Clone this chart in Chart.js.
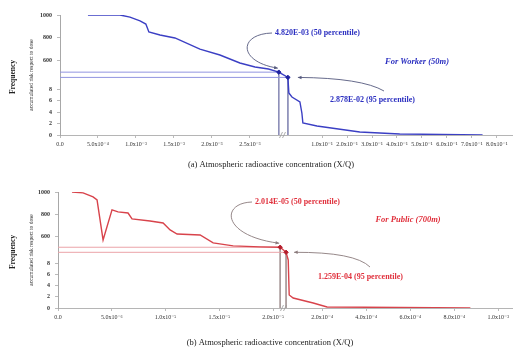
<!DOCTYPE html>
<html>
<head>
<meta charset="utf-8">
<script src="https://cdn.jsdelivr.net/npm/chart.js@4/dist/chart.umd.min.js"></script>
<style>
  html, body { margin: 0; padding: 0; background: #fff; }
  #wrap { position: relative; width: 517px; height: 353px; overflow: hidden; }
  canvas { position: absolute; left: 0; }
</style>
</head>
<body>
<div id="wrap">
  <canvas id="worker" width="517" height="170" style="top:0"></canvas>
  <canvas id="public" width="517" height="183" style="top:170px"></canvas>
</div>
<script>
// ---- data: cumulative frequency vs. atmospheric concentration (X/Q) ----
// (a) worker, 50 m
const workerX    = [3.68e-4, 7.89e-4, 9.21e-4, 1.053e-3, 1.13e-3, 1.17e-3, 1.316e-3, 1.513e-3, 1.842e-3,
                    2.105e-3, 2.368e-3, 2.91e-3, 3.99e-3, 4.820e-3, 2.878e-2, 3.08e-2, 3.72e-2, 5.38e-2,
                    5.79e-2, 6.0e-2, 8.93e-2, 0.251, 0.411, 0.743];
const workerFreq = [1000, 1000, 982, 948, 921, 851, 825, 799, 702,
                    650, 580, 545, 527, 500, 50, 7.35, 6.65, 5.78,
                    3.85, 2.1, 1.58, 0.53, 0.18, 0];
const workerPctX = [4.820e-3, 2.878e-2];

// (b) public, 700 m
const publicX    = [1.3e-6, 2.33e-6, 3.26e-6, 3.63e-6, 4.19e-6, 5.02e-6, 5.58e-6, 6.51e-6, 6.88e-6,
                    8.56e-6, 9.77e-6, 1.042e-5, 1.107e-5, 1.321e-5, 1.442e-5, 1.628e-5, 1.879e-5, 2.014e-5,
                    1.259e-4, 1.303e-4, 1.323e-4, 1.405e-4, 1.815e-4, 2.22e-4, 8.73e-4];
const publicFreq = [1000, 992, 955, 928, 566, 838, 820, 810, 756,
                    738, 720, 657, 620, 611, 539, 512, 503, 500,
                    50, 8.7, 2.36, 1.81, 0.9, 0.18, 0];
const publicPctX = [2.014e-5, 1.259e-4];

// shared percentile levels
const pctFreq  = [500, 50];
const pctNames = ['50 percentile', '95 percentile'];

// tick labels
const workerTicks = [0, 5e-4, 1e-3, 1.5e-3, 2e-3, 2.5e-3, 0.1, 0.2, 0.3, 0.4, 0.5, 0.6, 0.7, 0.8];
const publicTicks = [0, 5e-6, 1e-5, 1.5e-5, 2e-5, 2e-4, 4e-4, 6e-4, 8e-4, 1e-3];
const freqTicks   = [0, 2, 4, 6, 8, 600, 800, 1000];

// ---- broken axes: piecewise-linear map from value to axis position ----
function piecewise(knots) {
  return v => {
    for (let i = 1; i < knots.length; i++) {
      if (v <= knots[i][0] || i === knots.length - 1) {
        const [a0, b0] = knots[i - 1], [a1, b1] = knots[i];
        return b0 + (v - a0) * (b1 - b0) / (a1 - a0);
      }
    }
  };
}
const freqAxis   = piecewise([[0, 0], [10, 10], [500, 11], [1000, 21]]);
const workerAxis = piecewise([[0, 0], [2.5e-3, 2.5], [4.82e-3, 2.88], [2.878e-2, 3.0], [0.1, 3.45], [0.8, 5.75]]);
const publicAxis = piecewise([[0, 0], [2e-5, 20], [2.014e-5, 20.65], [1.259e-4, 21.2], [2e-4, 24.56], [1e-3, 40.93]]);

// ---- label formatting ----
const SUP = { '-': '\u207B', '0': '\u2070', '1': '\u00B9', '2': '\u00B2', '3': '\u00B3',
              '4': '\u2074', '5': '\u2075', '6': '\u2076', '7': '\u2077', '8': '\u2078', '9': '\u2079' };
function tickFmt(v) {
  if (v === 0) return '0.0';
  const e = Math.floor(Math.log10(v) + 1e-9);
  const m = v / Math.pow(10, e);
  return m.toFixed(1) + 'x10' + String(e).split('').map(c => SUP[c]).join('');
}
function sciFmt(v) {
  const [m, e] = v.toExponential(3).split('e');
  const n = parseInt(e, 10);
  return m + 'E' + (n < 0 ? '-' : '+') + String(Math.abs(n)).padStart(2, '0');
}

const SERIF = '"Liberation Serif", "DejaVu Serif", serif';

function arrowHead(ctx, fromX, fromY, toX, toY, size) {
  const a = Math.atan2(toY - fromY, toX - fromX);
  ctx.beginPath();
  ctx.moveTo(toX, toY);
  ctx.lineTo(toX - size * Math.cos(a - 0.45), toY - size * Math.sin(a - 0.45));
  ctx.lineTo(toX - size * Math.cos(a + 0.45), toY - size * Math.sin(a + 0.45));
  ctx.closePath();
  ctx.fill();
}

// ---- one panel ----
function panel(canvasId, cfg) {
  const fx = cfg.xAxis;
  const curve = cfg.x.map((x, i) => ({ x: fx(x), y: freqAxis(cfg.freq[i]) }));
  const hGuides = [], vGuides = [], marks = [];
  cfg.pctX.forEach((p, i) => {
    hGuides.push({ x: 0, y: freqAxis(pctFreq[i]) }, { x: fx(p), y: freqAxis(pctFreq[i]) }, { x: NaN, y: NaN });
    vGuides.push({ x: fx(p), y: freqAxis(pctFreq[i]) }, { x: fx(p), y: 0 }, { x: NaN, y: NaN });
    marks.push({ x: fx(p), y: freqAxis(pctFreq[i]) });
  });

  const decor = {
    id: 'decor',
    afterDraw(chart) {
      const ctx = chart.ctx, ca = chart.chartArea;
      const xs = chart.scales.x, ys = chart.scales.y;
      const mk = marks.map(m => ({ x: xs.getPixelForValue(m.x), y: ys.getPixelForValue(m.y) }));
      ctx.save();

      // axis titles
      const yMid = (ca.top + ca.bottom) / 2;
      ctx.fillStyle = '#222';
      ctx.textAlign = 'center';
      ctx.textBaseline = 'middle';
      ctx.save();
      ctx.translate(13, yMid + 2);
      ctx.rotate(-Math.PI / 2);
      ctx.font = 'bold 7.5px ' + SERIF;
      ctx.fillText('Frequency', 0, 0);
      ctx.restore();
      ctx.save();
      ctx.translate(32, yMid);
      ctx.rotate(-Math.PI / 2);
      ctx.font = '5.5px ' + SERIF;
      ctx.fillText('accumulated risk respect to dose', 0, 0);
      ctx.restore();

      ctx.font = '8.5px ' + SERIF;
      ctx.fillStyle = '#222';
      ctx.fillText(cfg.caption, cfg.captionPos[0], cfg.captionPos[1]);

      // axis break mark
      ctx.strokeStyle = '#999';
      ctx.lineWidth = 0.8;
      const bx = cfg.breakPx;
      [0, 3].forEach(d => {
        ctx.beginPath();
        ctx.moveTo(bx + d - 1.5, ca.bottom + 3);
        ctx.lineTo(bx + d + 1.5, ca.bottom - 3);
        ctx.stroke();
      });

      // percentile call-outs
      const a = cfg.note;
      ctx.fillStyle = cfg.textColor;
      ctx.textAlign = 'left';
      ctx.font = 'bold 8px ' + SERIF;
      ctx.fillText(sciFmt(cfg.pctX[0]) + ' (' + pctNames[0] + ')', a.l50[0], a.l50[1]);
      ctx.fillText(sciFmt(cfg.pctX[1]) + ' (' + pctNames[1] + ')', a.l95[0], a.l95[1]);
      ctx.textAlign = 'center';
      ctx.font = 'italic bold 8.5px ' + SERIF;
      ctx.fillText(cfg.title, a.title[0], a.title[1]);

      ctx.strokeStyle = cfg.calloutColor;
      ctx.fillStyle = cfg.calloutColor;
      ctx.lineWidth = 0.9;
      // arc to the 50th percentile point
      const t50x = mk[0].x - 1, t50y = mk[0].y - 4;
      ctx.beginPath();
      ctx.moveTo(a.arc[0], a.arc[1]);
      ctx.bezierCurveTo(a.arc[2], a.arc[3], a.arc[4], a.arc[5], t50x, t50y);
      ctx.stroke();
      arrowHead(ctx, a.arc[4], a.arc[5], t50x, t50y, 4);
      // curved arrow to the 95th percentile point
      const t95x = mk[1].x + a.tipGap, t95y = mk[1].y;
      ctx.beginPath();
      ctx.moveTo(a.arr[0], a.arr[1]);
      ctx.quadraticCurveTo(a.arr[2], a.arr[3], t95x, t95y);
      ctx.stroke();
      arrowHead(ctx, a.arr[2], a.arr[3], t95x, t95y, 4);
      ctx.restore();
    }
  };

  return new Chart(document.getElementById(canvasId), {
    type: 'line',
    data: {
      datasets: [
        { data: hGuides, borderColor: cfg.hGuide, borderWidth: 1, pointRadius: 0, spanGaps: false, order: 3 },
        { data: vGuides, borderColor: cfg.vGuide, borderWidth: 1, pointRadius: 0, spanGaps: false, order: 3 },
        { data: curve, borderColor: cfg.color, borderWidth: 1.4, pointRadius: 0, tension: 0, order: 2 },
        { data: marks, showLine: false, pointRadius: 2.2, pointStyle: 'rectRot',
          pointBackgroundColor: cfg.markColor, pointBorderColor: cfg.markColor, order: 1 }
      ]
    },
    options: {
      responsive: false,
      animation: false,
      events: [],
      layout: { padding: { top: cfg.padTop, right: 5, left: 0, bottom: 0 } },
      plugins: { legend: { display: false }, tooltip: { enabled: false } },
      scales: {
        x: {
          type: 'linear', min: 0, max: cfg.xMax,
          afterBuildTicks: s => { s.ticks = cfg.ticks.map(v => ({ value: fx(v) })); },
          afterFit: s => { s.height = cfg.xHeight; },
          ticks: {
            autoSkip: false, maxRotation: 0, padding: 3,
            font: { size: 6, family: SERIF }, color: '#333',
            callback: (v, i) => tickFmt(cfg.ticks[i])
          },
          grid: { drawOnChartArea: false, tickLength: 3, color: '#bbb' },
          border: { color: '#b5b5b5' }
        },
        y: {
          type: 'linear', min: 0, max: 21,
          afterBuildTicks: s => { s.ticks = freqTicks.map(v => ({ value: freqAxis(v) })); },
          afterFit: s => { s.width = cfg.yWidth; },
          ticks: {
            autoSkip: false, padding: 5,
            font: { size: 6, family: SERIF, weight: 'bold' }, color: '#333',
            callback: (v, i) => String(freqTicks[i])
          },
          grid: { drawOnChartArea: false, tickLength: 3, color: '#bbb' },
          border: { color: '#a8a8a8' }
        }
      }
    },
    plugins: [decor]
  });
}

panel('worker', {
  x: workerX, freq: workerFreq, pctX: workerPctX, xAxis: workerAxis, ticks: workerTicks,
  xMax: 5.95, padTop: 15, xHeight: 35, yWidth: 60, breakPx: 281,
  color: '#3b3fc4', markColor: '#1f22a0', textColor: '#2b2fc0', calloutColor: '#55597e',
  hGuide: '#9194e0', vGuide: '#8d8fb8',
  caption: '(a) Atmospheric radioactive concentration (X/Q)', captionPos: [271, 165],
  title: 'For Worker (50m)',
  note: { l50: [275, 33], l95: [330, 100], title: [417, 62],
          arc: [272, 33, 238, 34, 238, 62], arr: [384, 91, 362, 78], tipGap: 10 }
});

panel('public', {
  x: publicX, freq: publicFreq, pctX: publicPctX, xAxis: publicAxis, ticks: publicTicks,
  xMax: 42.2, padTop: 22, xHeight: 45, yWidth: 58, breakPx: 282,
  color: '#d8434b', markColor: '#b51e2c', textColor: '#e0303c', calloutColor: '#8a7a7c',
  hGuide: '#eba3a8', vGuide: '#a89a9a',
  caption: '(b) Atmospheric radioactive concentration (X/Q)', captionPos: [270, 173],
  title: 'For Public (700m)',
  note: { l50: [255, 32], l95: [318, 107], title: [408, 50],
          arc: [252, 32, 220, 33, 222, 66], arr: [370, 97, 355, 82], tipGap: 8 }
});
</script>
</body>
</html>
